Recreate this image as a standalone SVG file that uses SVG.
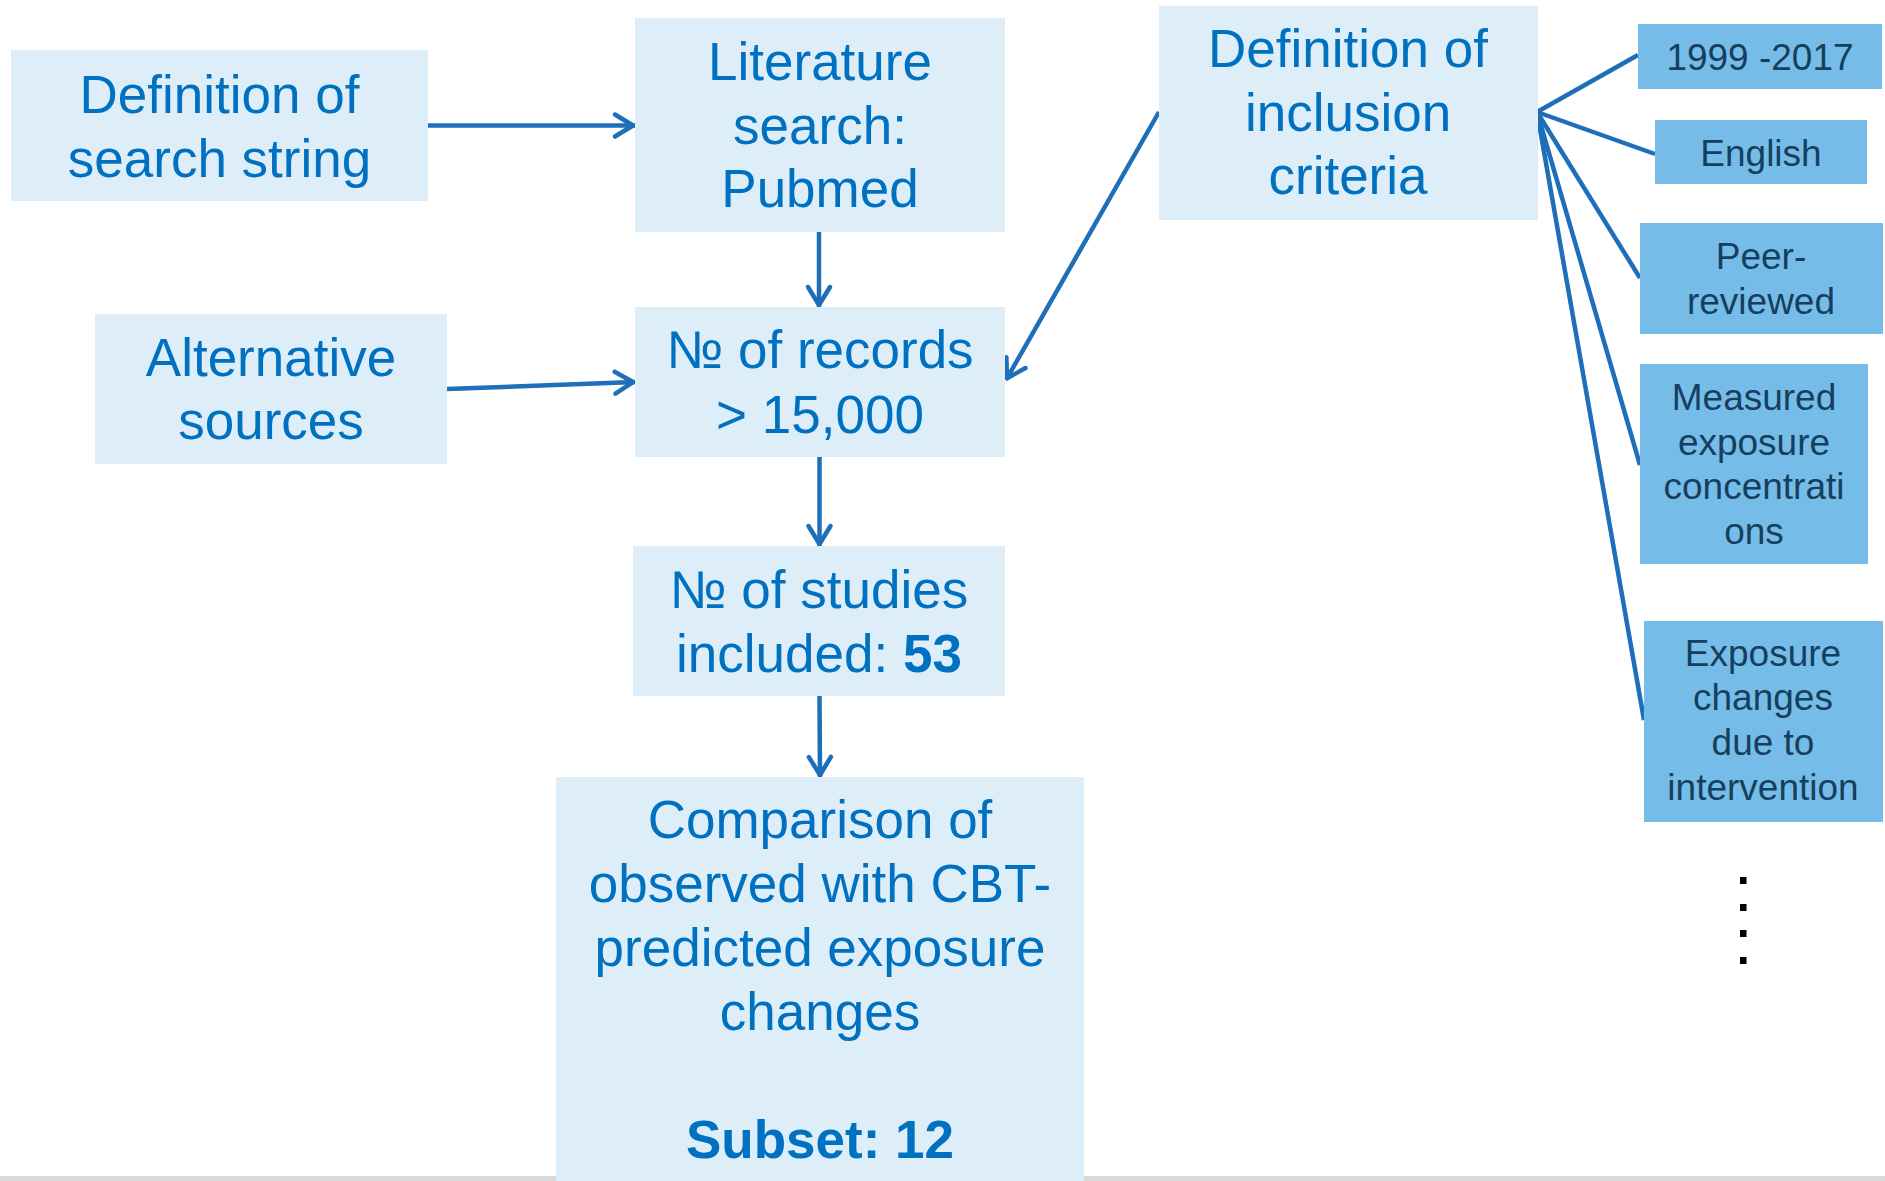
<svg xmlns="http://www.w3.org/2000/svg" width="1885" height="1181" viewBox="0 0 1885 1181">
<defs>
<style>
.main rect{fill:#DDEEF9}
.main text{font-family:"Liberation Sans",Arial,sans-serif;font-size:53px;fill:#0070C0;text-anchor:middle}
.crit rect{fill:#75BDE8}
.crit text{font-family:"Liberation Sans",Arial,sans-serif;font-size:37px;fill:#163F5E;text-anchor:middle}
.b{font-weight:bold}
.conn line{stroke:#1E6EBA;stroke-width:4.5;fill:none}
.arr{marker-end:url(#ah)}
.dot{fill:#000}
</style>
<marker id="ah" markerUnits="userSpaceOnUse" viewBox="0 0 30 30" markerWidth="30" markerHeight="30" refX="24" refY="15" orient="auto">
<path d="M4,4 L22,15 L4,26" fill="none" stroke="#1E6EBA" stroke-width="4.5" stroke-linejoin="round" stroke-linecap="round"/>
</marker>
</defs>
<rect x="0" y="1176" width="1885" height="5" fill="#D9D9D9"/>
<g id="connectors" class="conn">
<line class="arr" x1="428" y1="125.5" x2="635" y2="125.5"/>
<line class="arr" x1="819" y1="232" x2="819" y2="307"/>
<line class="arr" x1="447" y1="389" x2="635" y2="382"/>
<line class="arr" x1="1159" y1="112" x2="1006" y2="380"/>
<line class="arr" x1="819.5" y1="457" x2="819.5" y2="546"/>
<line class="arr" x1="819.5" y1="696" x2="820" y2="777"/>
<line x1="1537" y1="112" x2="1638" y2="55"/>
<line x1="1537" y1="112" x2="1655" y2="154"/>
<line x1="1537" y1="112" x2="1640" y2="278"/>
<line x1="1537" y1="112" x2="1640" y2="465"/>
<line x1="1537" y1="112" x2="1644" y2="720"/>
</g>
<g id="n-search-string" class="main">
<rect x="11" y="50" width="417" height="151"/>
<text x="219.5" y="113">Definition of</text>
<text x="219.5" y="177">search string</text>
</g>
<g id="n-literature" class="main">
<rect x="635" y="18" width="370" height="214"/>
<text x="820" y="80">Literature</text>
<text x="820" y="144">search:</text>
<text x="820" y="207">Pubmed</text>
</g>
<g id="n-alternative" class="main">
<rect x="95" y="314" width="352" height="150"/>
<text x="271" y="376">Alternative</text>
<text x="271" y="439">sources</text>
</g>
<g id="n-records" class="main">
<rect x="635" y="307" width="370" height="150"/>
<text x="820" y="368">№ of records</text>
<text x="820" y="433">&gt; 15,000</text>
</g>
<g id="n-studies" class="main">
<rect x="633" y="546" width="372" height="150"/>
<text x="819" y="608">№ of studies</text>
<text x="819" y="672">included: <tspan class="b">53</tspan></text>
</g>
<g id="n-comparison" class="main">
<rect x="556" y="777" width="528" height="404"/>
<text x="820" y="838">Comparison of</text>
<text x="820" y="902">observed with CBT-</text>
<text x="820" y="966">predicted exposure</text>
<text x="820" y="1030">changes</text>
<text x="820" y="1158" class="b">Subset: 12</text>
</g>
<g id="n-inclusion" class="main">
<rect x="1159" y="6" width="379" height="214"/>
<text x="1348" y="67">Definition of</text>
<text x="1348" y="131">inclusion</text>
<text x="1348" y="194">criteria</text>
</g>
<g id="c-years" class="crit">
<rect x="1638" y="24" width="244" height="65"/>
<text x="1760" y="70">1999 -2017</text>
</g>
<g id="c-english" class="crit">
<rect x="1655" y="120" width="212" height="64"/>
<text x="1761" y="166">English</text>
</g>
<g id="c-peer" class="crit">
<rect x="1640" y="223" width="243" height="111"/>
<text x="1761" y="269">Peer-</text>
<text x="1761" y="314">reviewed</text>
</g>
<g id="c-measured" class="crit">
<rect x="1640" y="364" width="228" height="200"/>
<text x="1754" y="410">Measured</text>
<text x="1754" y="455">exposure</text>
<text x="1754" y="499">concentrati</text>
<text x="1754" y="544">ons</text>
</g>
<g id="c-exposure" class="crit">
<rect x="1644" y="621" width="239" height="201"/>
<text x="1763" y="666">Exposure</text>
<text x="1763" y="710">changes</text>
<text x="1763" y="755">due to</text>
<text x="1763" y="800">intervention</text>
</g>
<g id="ellipsis">
<rect class="dot" x="1740" y="877" width="6.5" height="7"/>
<rect class="dot" x="1740" y="904" width="6.5" height="7"/>
<rect class="dot" x="1740" y="930" width="6.5" height="7"/>
<rect class="dot" x="1740" y="957" width="6.5" height="7"/>
</g>
</svg>
